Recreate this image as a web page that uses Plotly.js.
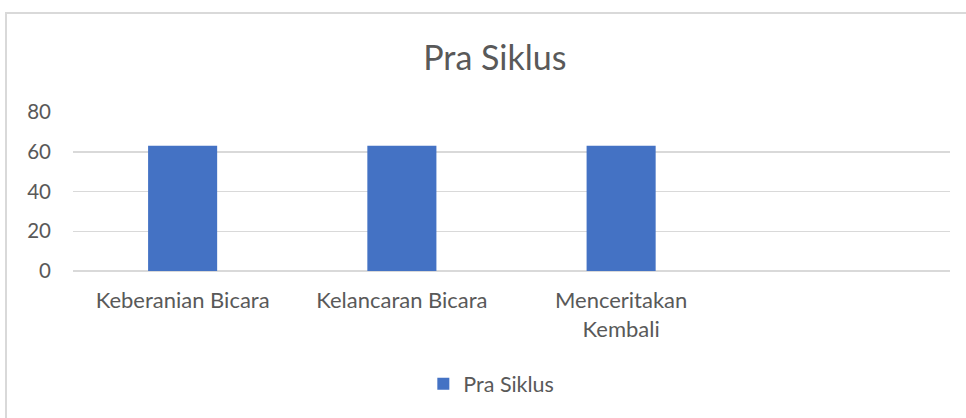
<!DOCTYPE html>
<html>
<head>
<meta charset="utf-8">
<script src="https://cdn.plot.ly/plotly-3.0.1.min.js"></script>
<style>
html,body{margin:0;padding:0;background:#fff;overflow:hidden;}
#chart{position:absolute;left:0;top:0;width:966px;height:418px;}
#frame{position:absolute;left:5px;top:12px;width:1200px;height:800px;border:2px solid #d9d9d9;box-sizing:border-box;pointer-events:none;}
</style>
</head>
<body>
<div id="chart"></div>
<div id="frame"></div>
<script>
const categories = ["Keberanian Bicara", "Kelancaran Bicara", "Menceritakan<br>Kembali"];
const seriesName = "Pra Siklus";
const values = [63, 63, 63];
const yTicks = [0, 20, 40, 60, 80];
const chartTitle = "Pra Siklus";

const font = "Lato, 'Noto Sans', sans-serif";
const data = [{
  type: 'bar',
  x: categories,
  y: values,
  name: seriesName,
  marker: {color: '#4472C4'},
  hoverinfo: 'x+y'
}];
const layout = {
  width: 966, height: 418,
  margin: {l: 73, r: 16, t: 112, b: 147},
  paper_bgcolor: 'rgba(0,0,0,0)',
  plot_bgcolor: 'rgba(0,0,0,0)',
  font: {family: font, color: '#595959', size: 22},
  title: {text: chartTitle, font: {family: font, size: 34, color: '#595959'}, x: 0.481, xref: 'paper', xanchor: 'center', yref: 'container', yanchor: 'middle'},
  bargap: 0.685,
  showlegend: true,
  legend: {orientation: 'h', x: 0.477, xanchor: 'center', y: -0.71, yanchor: 'middle', font: {family: font, size: 21.5, color: '#595959'}},
  xaxis: {type: 'category', range: [-0.5, 3.5], showgrid: false, showline: false, ticks: '', ticklabelstandoff: 14, tickfont: {family: font, size: 22, color: '#595959'}},
  yaxis: {range: [0, 80], tickvals: yTicks, showgrid: true, gridcolor: '#d9d9d9', gridwidth: 1.5, zeroline: true, zerolinecolor: '#d9d9d9', zerolinewidth: 1.5, showline: false, ticks: '', ticklabelstandoff: 21, tickfont: {family: font, size: 20.5, color: '#595959'}}
};
layout.title.y = 1 - 58/418;
Plotly.newPlot('chart', data, layout, {displayModeBar: false, staticPlot: true});
</script>
</body>
</html>
